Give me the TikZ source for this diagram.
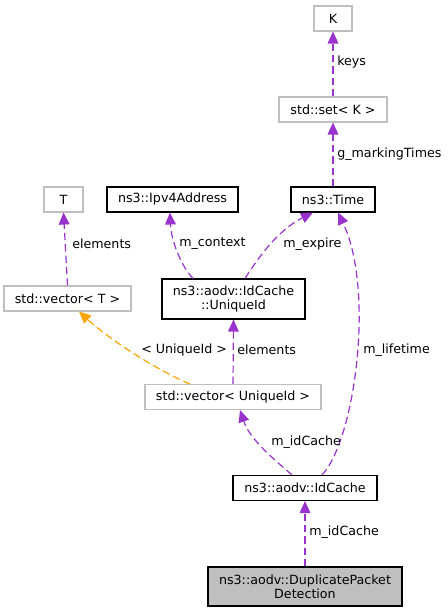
\documentclass[tikz,border=0pt]{standalone}
\usepackage{fontspec}
\setmainfont{DejaVu Sans}
\usetikzlibrary{arrows.meta,calc}
\definecolor{edgepurple}{HTML}{9A32CD}
\definecolor{edgeorange}{HTML}{FFA500}
\definecolor{boxgray}{HTML}{BFBFBF}
\begin{document}
\begin{tikzpicture}[x=0.75pt,y=-0.75pt,
  font=\fontsize{9.5}{10.5}\selectfont,
  cls/.style={draw=black,line width=0.8pt,rectangle,inner sep=0pt,align=center,fill=white},
  ext/.style={draw=boxgray,line width=0.8pt,rectangle,inner sep=0pt,align=center,fill=white},
  rel/.style={draw=edgepurple,line width=0.9pt,dash pattern=on 5.5pt off 3pt,-{Triangle[length=9pt,width=8pt]},edgepurple},
  tmpl/.style={draw=edgeorange,line width=0.9pt,dash pattern=on 5.5pt off 3pt,-{Triangle[length=9pt,width=8pt]},edgeorange},
  lbl/.style={anchor=west,inner sep=0pt,text=black}]
\useasboundingbox (0,0) rectangle (448,613);
\node[ext,minimum width=38*0.75pt,minimum height=25*0.75pt] (K) at (333,18.5) {K};
\node[ext,minimum width=108*0.75pt,minimum height=25*0.75pt] (set) at (333,109.5) {std::set< K >};
\node[cls,minimum width=84*0.75pt,minimum height=25*0.75pt] (time) at (333,199.5) {ns3::Time};
\node[ext,minimum width=39*0.75pt,minimum height=25*0.75pt] (T) at (63.5,199.5) {T};
\node[cls,minimum width=131*0.75pt,minimum height=25*0.75pt] (ipv) at (172.5,199.5) {ns3::Ipv4Address};
\node[ext,minimum width=127*0.75pt,minimum height=25*0.75pt] (vt) at (67.5,298.5) {std::vector< T >};
\node[cls,minimum width=143*0.75pt,minimum height=40*0.75pt] (uid) at (233.5,299) {ns3::aodv::IdCache\\::UniqueId};
\node[ext,minimum width=176*0.75pt,minimum height=25*0.75pt] (vu) at (233,397) {std::vector< UniqueId >};
\node[cls,minimum width=144*0.75pt,minimum height=25*0.75pt] (idc) at (305,488) {ns3::aodv::IdCache};
\node[cls,fill=boxgray,minimum width=194*0.75pt,minimum height=39*0.75pt] (dpd) at (305,586.5) {ns3::aodv::DuplicatePacket\\Detection};

\draw[rel] (set.north) -- (K.south);
\draw[rel] (time.north) -- (set.south);
\draw[rel] (vt.north) -- (T.south);
\draw[rel] ($(uid.north)+(-40.5,0)$) .. controls (181,266) and (171,240) .. ($(ipv.south)+(-2.5,0)$);
\draw[rel] ($(uid.north)+(11.5,0)$) .. controls (258,258) and (278,230) .. ($(time.south)+(-20,0)$);
\draw[rel] ($(idc.north)+(17,0)$) .. controls (355,440) and (375,290) .. ($(time.south)+(5,0)$);
\draw[rel] (vu.north) -- (uid.south);
\draw[tmpl] ($(vu.north)+(-43,0)$) .. controls (160,372) and (110,340) .. ($(vt.south)+(11.5,0)$);
\draw[rel] ($(idc.north)+(-13,0)$) .. controls (275,460) and (250,440) .. ($(vu.south)+(7,0)$);
\draw[rel] (dpd.north) -- (idc.south);

\node[lbl] (l1) at (337,62) {keys};
\node[lbl] (l2) at (337,154) {g\_markingTimes};
\node[lbl] (l3) at (72,244) {elements};
\node[lbl] (l4) at (179,244) {m\_context};
\node[lbl] (l5) at (283,244) {m\_expire};
\node[lbl] (l6) at (363,350) {m\_lifetime};
\node[lbl] (l7) at (237,350) {elements};
\node[lbl] (l8) at (141,350) {< UniqueId >};
\node[lbl] (l9) at (271,442) {m\_idCache};
\node[lbl] (l10) at (309,532) {m\_idCache};
\end{tikzpicture}
\end{document}
